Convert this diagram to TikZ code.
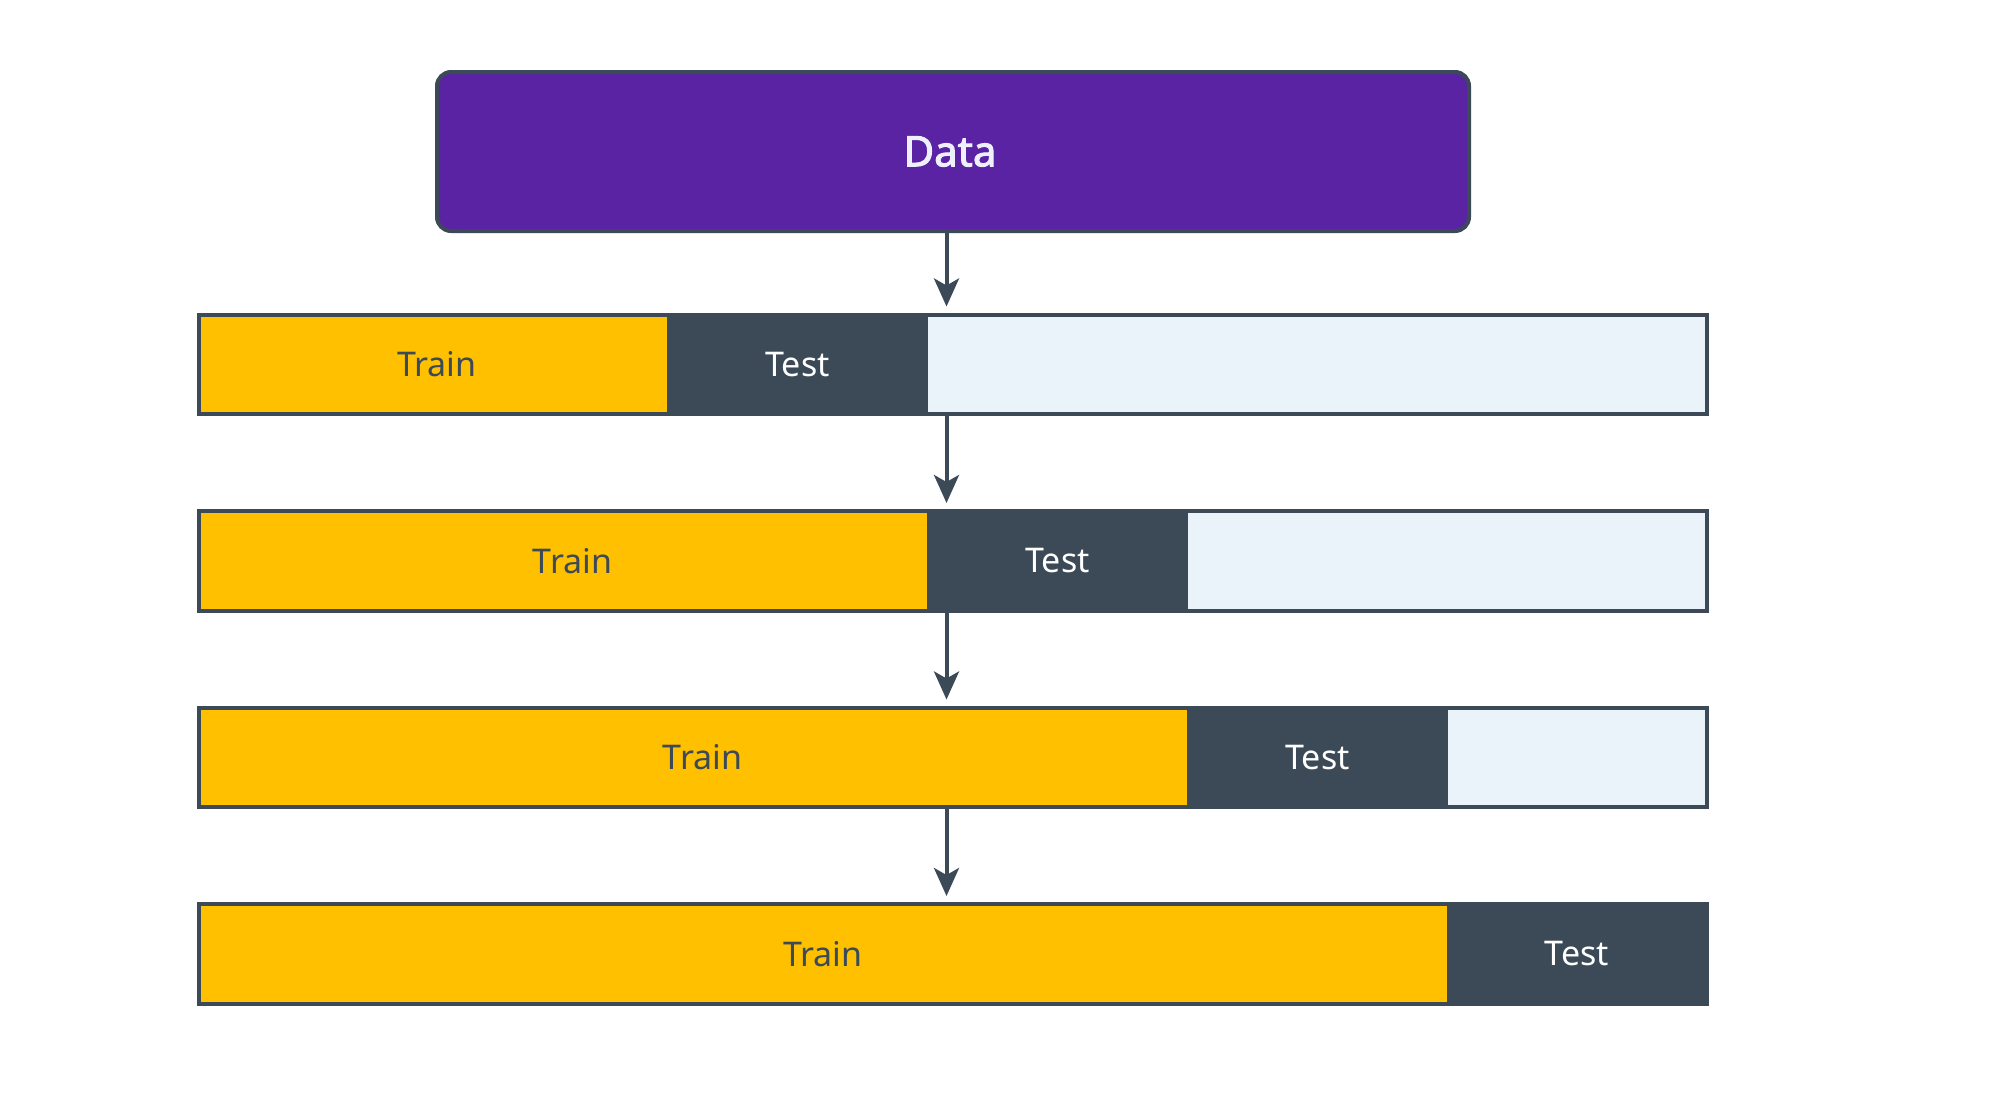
\documentclass[tikz,border=0pt]{standalone}
\usepackage{fontspec}
\setmainfont{Noto Sans}
\newfontfamily\datafont{Noto Sans}[FakeBold=2.4]
\usetikzlibrary{arrows.meta}
\definecolor{purplec}{HTML}{5A23A3}
\definecolor{yellowc}{HTML}{FFC000}
\definecolor{darkc}{HTML}{3C4A58}
\definecolor{lightc}{HTML}{EBF3FA}
\definecolor{datatext}{HTML}{EEF1FC}
\tikzset{
  seg/.style={inner sep=0pt, outer sep=0pt, minimum height=99.5pt, anchor=north west, font=\fontsize{34}{40}\selectfont},
  trainseg/.style={seg, fill=yellowc, text=darkc},
  testseg/.style={seg, fill=darkc, text=white, minimum width=261pt},
  restseg/.style={seg, fill=lightc},
  rowbox/.style={inner sep=0pt, outer sep=0pt, minimum height=99.5pt, minimum width=1508pt, anchor=north west, draw=darkc, line width=4pt},
  databox/.style={inner sep=0pt, outer sep=0pt, anchor=north west, draw=darkc, line width=4pt, fill=purplec, rounded corners=14pt, minimum width=1032pt, minimum height=159pt, text=datatext, font=\datafont\fontsize{42}{48}\selectfont},
  arr/.style={draw=darkc, line width=4pt, -{Stealth[length=28pt, width=25pt, inset=7pt]}, shorten >=8pt}
}
\begin{document}
\begin{tikzpicture}[x=1pt, y=-1pt]
\useasboundingbox[fill=white] (0,0) rectangle (2000,1100);
\node[databox] (data) at (437,72) {\hspace*{-6pt}Data};
% row 1
\node[trainseg, minimum width=468pt] (t1) at (199,314.5) {\hspace*{8pt}Train};
\node[testseg] (s1) at (667,314.5) {Test};
\node[restseg, minimum width=779pt] (e1) at (928,314.5) {};
\node[rowbox] (row1) at (199,314.5) {};
% row 2
\node[trainseg, minimum width=728pt] (t2) at (199,511) {\hspace*{19pt}Train};
\node[testseg] (s2) at (927,511) {Test};
\node[restseg, minimum width=519pt] (e2) at (1188,511) {};
\node[rowbox] (row2) at (199,511) {};
% row 3
\node[trainseg, minimum width=988pt] (t3) at (199,707.5) {\hspace*{19pt}Train};
\node[testseg] (s3) at (1187,707.5) {Test};
\node[restseg, minimum width=259pt] (e3) at (1448,707.5) {};
\node[rowbox] (row3) at (199,707.5) {};
% row 4
\node[trainseg, minimum width=1248pt] (t4) at (199,904) {Train};
\node[testseg, minimum width=260pt] (s4) at (1447,904) {Test};
\node[rowbox] (row4) at (199,904) {};
% arrows
\coordinate (ax) at (946.5,0);
\draw[arr] (data.south -| ax) -- (row1.north -| ax);
\draw[arr] (row1.south -| ax) -- (row2.north -| ax);
\draw[arr] (row2.south -| ax) -- (row3.north -| ax);
\draw[arr] (row3.south -| ax) -- (row4.north -| ax);
\end{tikzpicture}
\end{document}
